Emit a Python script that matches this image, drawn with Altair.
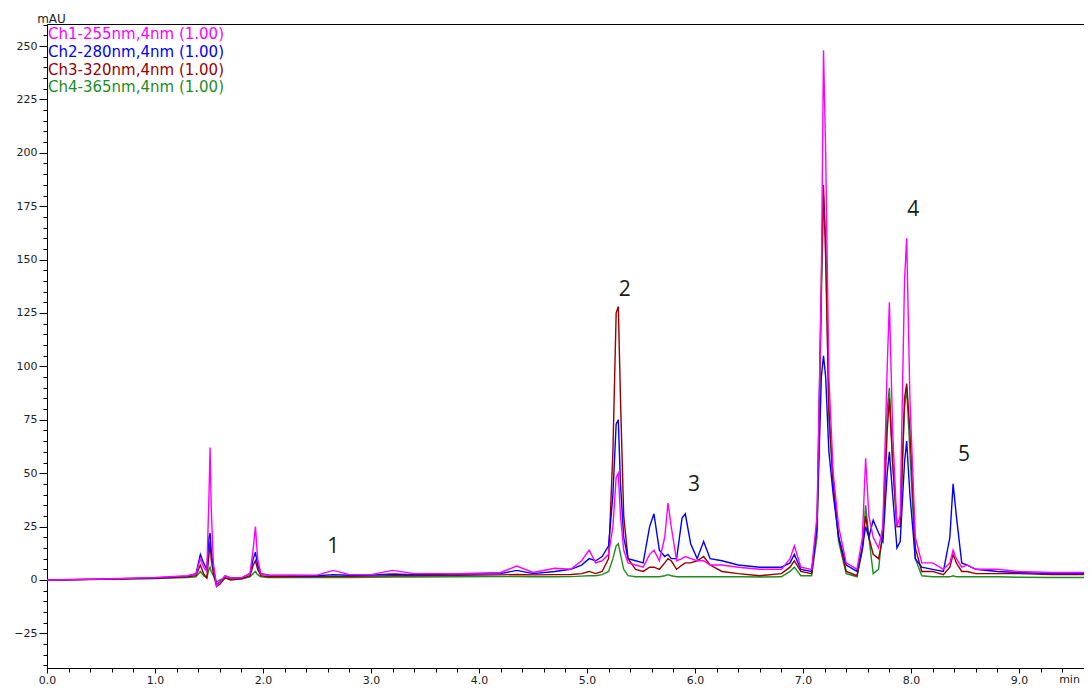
import altair as alt
import pandas as pd

# ---------------- data ----------------
time_min = [0.0, 0.5, 1.0, 1.3, 1.38, 1.42, 1.45, 1.48, 1.50, 1.51, 1.52, 1.54, 1.57, 1.60,
            1.65, 1.70, 1.80, 1.88, 1.91, 1.93, 1.95, 1.98, 2.05, 2.5, 2.65, 2.8, 3.0, 3.2,
            3.4, 3.8, 4.2, 4.35, 4.5, 4.7, 4.85, 4.95, 5.02, 5.08, 5.14, 5.20, 5.24, 5.27,
            5.29, 5.31, 5.34, 5.38, 5.45, 5.52, 5.58, 5.62, 5.67, 5.72, 5.75, 5.78, 5.83,
            5.88, 5.91, 5.96, 6.02, 6.08, 6.14, 6.25, 6.4, 6.6, 6.8, 6.88, 6.92, 6.98, 7.08,
            7.13, 7.17, 7.19, 7.21, 7.24, 7.28, 7.33, 7.40, 7.50, 7.55, 7.58, 7.61, 7.65,
            7.70, 7.74, 7.78, 7.80, 7.83, 7.87, 7.90, 7.94, 7.96, 7.99, 8.04, 8.10, 8.2,
            8.3, 8.36, 8.39, 8.42, 8.47, 8.52, 8.6, 8.8, 9.0, 9.3, 9.7]

ch1_255 = [0, 0.5, 1.2, 2.0, 3, 10, 6, 4, 40, 62, 35, 8, -3, -1,
           2, 1, 1, 3, 15, 25, 10, 3, 2.2, 2.3, 4.5, 2.5, 2.5, 4.5,
           3, 3, 3.5, 6.5, 3.5, 5.5, 5, 9, 14, 8, 9, 12, 25, 48,
           50, 30, 14, 8, 7, 6, 12, 14, 9, 20, 36, 25, 9,
           10, 11, 10, 9, 9, 7, 7, 6, 5, 5, 10, 16, 6, 5,
           30, 140, 248, 200, 95, 50, 25, 8, 5, 20, 57, 30, 20,
           15, 25, 100, 130, 70, 25, 30, 140, 160, 85, 20, 8, 8,
           5, 8, 14, 10, 6, 7, 5, 5, 4, 3.5, 3.5]

ch2_280 = [0, 0.4, 1.0, 1.8, 3, 12, 8, 5, 20, 22, 14, 6, -2, -1,
           2, 1, 1, 3, 10, 13, 7, 3, 2.2, 2, 2.5, 2.2, 2.3, 2.8,
           2.5, 2.8, 3, 4.5, 3, 4, 5, 7, 10, 9, 11, 16, 40, 73,
           75, 45, 20, 10, 9, 8, 25, 31, 14, 11, 12, 10, 10,
           29, 31, 17, 10, 18, 10, 9, 7, 6, 6, 8, 12, 5, 4,
           25, 95, 105, 95, 60, 40, 20, 7, 4, 15, 25, 20, 28,
           22, 18, 50, 60, 40, 15, 18, 55, 65, 40, 10, 6, 5,
           4, 20, 45, 30, 8, 7, 5, 4, 3.5, 3, 3]

ch3_320 = [0, 0.3, 0.8, 1.5, 2, 7, 3, 1, 12, 18, 10, 3, -3, -2,
           1, 0, 0.5, 2, 7, 9, 5, 2, 1.5, 1.6, 1.8, 1.7, 1.8, 2,
           2, 2.2, 2.4, 2.6, 2.4, 2.5, 2.6, 3, 4, 3, 4, 10, 60, 125,
           128, 85, 30, 10, 5, 4, 6, 6, 5, 8, 10, 9, 5,
           7, 8, 8, 9, 11, 7, 4, 3, 2, 3, 6, 9, 4, 3,
           25, 140, 185, 150, 80, 45, 20, 4, 2, 15, 30, 20, 12,
           10, 20, 70, 85, 55, 25, 25, 85, 92, 70, 15, 4, 4,
           2.5, 6, 12, 8, 4, 4, 3, 3, 3, 2.5, 2.5]

ch4_365 = [0, 0.3, 0.7, 1.2, 1.5, 4, 2, 1, 5, 6, 4, 2, -1, 0,
           1, 0.5, 0.5, 1.5, 3, 4, 2.5, 1.5, 1.2, 1.2, 1.2, 1.2, 1.3, 1.4,
           1.4, 1.5, 1.6, 1.6, 1.5, 1.5, 1.6, 1.8, 2, 2, 2.5, 4, 10, 16,
           17, 12, 5, 2, 1.5, 1.5, 1.5, 1.5, 1.5, 2, 2.5, 2, 1.5,
           1.5, 1.5, 1.5, 1.5, 1.5, 1.5, 1.5, 1.5, 1.4, 1.5, 4, 6, 2, 2,
           20, 130, 180, 160, 75, 45, 18, 3, 1.5, 14, 35, 20, 3,
           5, 25, 80, 90, 55, 25, 25, 80, 90, 60, 10, 2, 1.5,
           1.5, 1.5, 2, 1.5, 1.5, 1.5, 1.5, 1.5, 1.3, 1.2, 1.2]

channel_names = ["Ch1-255nm,4nm (1.00)", "Ch2-280nm,4nm (1.00)",
                 "Ch3-320nm,4nm (1.00)", "Ch4-365nm,4nm (1.00)"]
channel_fields = ["ch1", "ch2", "ch3", "ch4"]

peak_labels = ["1", "2", "3", "4", "5"]
peak_label_time = [2.65, 5.35, 5.99, 8.02, 8.49]
peak_label_mau = [15.4, 136.0, 44.5, 173.0, 58.5]

x_major_ticks = [0, 1, 2, 3, 4, 5, 6, 7, 8, 9]
y_major_ticks = [-25, 0, 25, 50, 75, 100, 125, 150, 175, 200, 225, 250]

# ---------------- styling ----------------
channel_colors = ["#FF00FF", "#0000FF", "#990000", "#1E8C1E"]
x_minor_ticks = [round(i * 0.2, 1) for i in range(0, 49) if i % 5 != 0]
y_minor_ticks = [v for v in range(-40, 261, 5) if v % 25 != 0]

df = pd.DataFrame({"t": time_min, "ch1": ch1_255, "ch2": ch2_280,
                   "ch3": ch3_320, "ch4": ch4_365})
peaks = pd.DataFrame({"t": peak_label_time, "v": peak_label_mau, "label": peak_labels})

xs = alt.Scale(domain=[0, 9.602], nice=False, zero=False)
ys = alt.Scale(domain=[-41.2, 260.3], nice=False, zero=False)

label_font = "DejaVu Sans"

x_axis_major = alt.Axis(values=x_major_ticks, format=".1f", orient="bottom", grid=False,
                        tickSize=5, tickColor="black", domainColor="black",
                        labelFont=label_font, labelFontSize=11, labelColor="#222222",
                        labelPadding=1, labelFlush=False, labelOverlap=False,
                        title="min", titleFont=label_font, titleFontSize=11,
                        titleFontWeight="normal", titleColor="#222222",
                        titleX=1022, titleY=14, titleAlign="center",
                        titleBaseline="alphabetic")
y_axis_major = alt.Axis(values=y_major_ticks, format="d", orient="left", grid=False,
                        tickSize=8, tickColor="black", domainColor="black",
                        labelFont=label_font, labelFontSize=11, labelColor="#222222",
                        labelPadding=2, labelFlush=False, labelOverlap=False,
                        title="mAU", titleFont=label_font, titleFontSize=12,
                        titleFontWeight="normal", titleColor="#222222", titleAngle=0,
                        titleX=4, titleY=-2, titleAlign="center",
                        titleBaseline="alphabetic")
x_axis_minor = alt.Axis(values=x_minor_ticks, orient="bottom", grid=False, labels=False,
                        domain=False, tickSize=4, tickColor="black", title="")
y_axis_minor = alt.Axis(values=y_minor_ticks, orient="left", grid=False, labels=False,
                        domain=False, tickSize=4, tickColor="black", title="")

layers = []
# minor-tick carrier (invisible)
layers.append(
    alt.Chart(df).mark_line(opacity=0).encode(
        x=alt.X("t:Q", scale=xs, axis=x_axis_minor),
        y=alt.Y("ch4:Q", scale=ys, axis=y_axis_minor),
    )
)
# draw order: Ch4, Ch3, Ch2, Ch1 (magenta on top)
for idx in [3, 2, 1, 0]:
    first = idx == 3
    layers.append(
        alt.Chart(df).mark_line(color=channel_colors[idx], strokeWidth=1.4, clip=True).encode(
            x=alt.X("t:Q", scale=xs, axis=x_axis_major if first else None),
            y=alt.Y(f"{channel_fields[idx]}:Q", scale=ys, axis=y_axis_major if first else None),
        )
    )

# peak numbers
layers.append(
    alt.Chart(peaks).mark_text(font="Open Sans", fontSize=21, color="#1a1a1a",
                               baseline="middle", align="center").encode(
        x=alt.X("t:Q", scale=xs, axis=None),
        y=alt.Y("v:Q", scale=ys, axis=None),
        text="label:N",
    )
)

# channel legend (coloured text, top-left inside the plot)
for i, name in enumerate(channel_names):
    layers.append(
        alt.Chart(pd.DataFrame({"label": [name]})).mark_text(
            font=label_font, fontSize=15, color=channel_colors[i],
            align="left", baseline="alphabetic").encode(
            x=alt.value(1), y=alt.value(15 + 17.8 * i), text="label:N")
    )

chart = alt.layer(*layers).resolve_axis(x="independent", y="independent").properties(
    width=1037, height=644,
    autosize=alt.AutoSizeParams(type="none"),
    padding={"left": 39, "top": 16, "right": 0, "bottom": 17},
).configure_view(stroke="black", strokeWidth=1)

chart.save("out.html", embed_options={"renderer": "svg", "actions": False})
